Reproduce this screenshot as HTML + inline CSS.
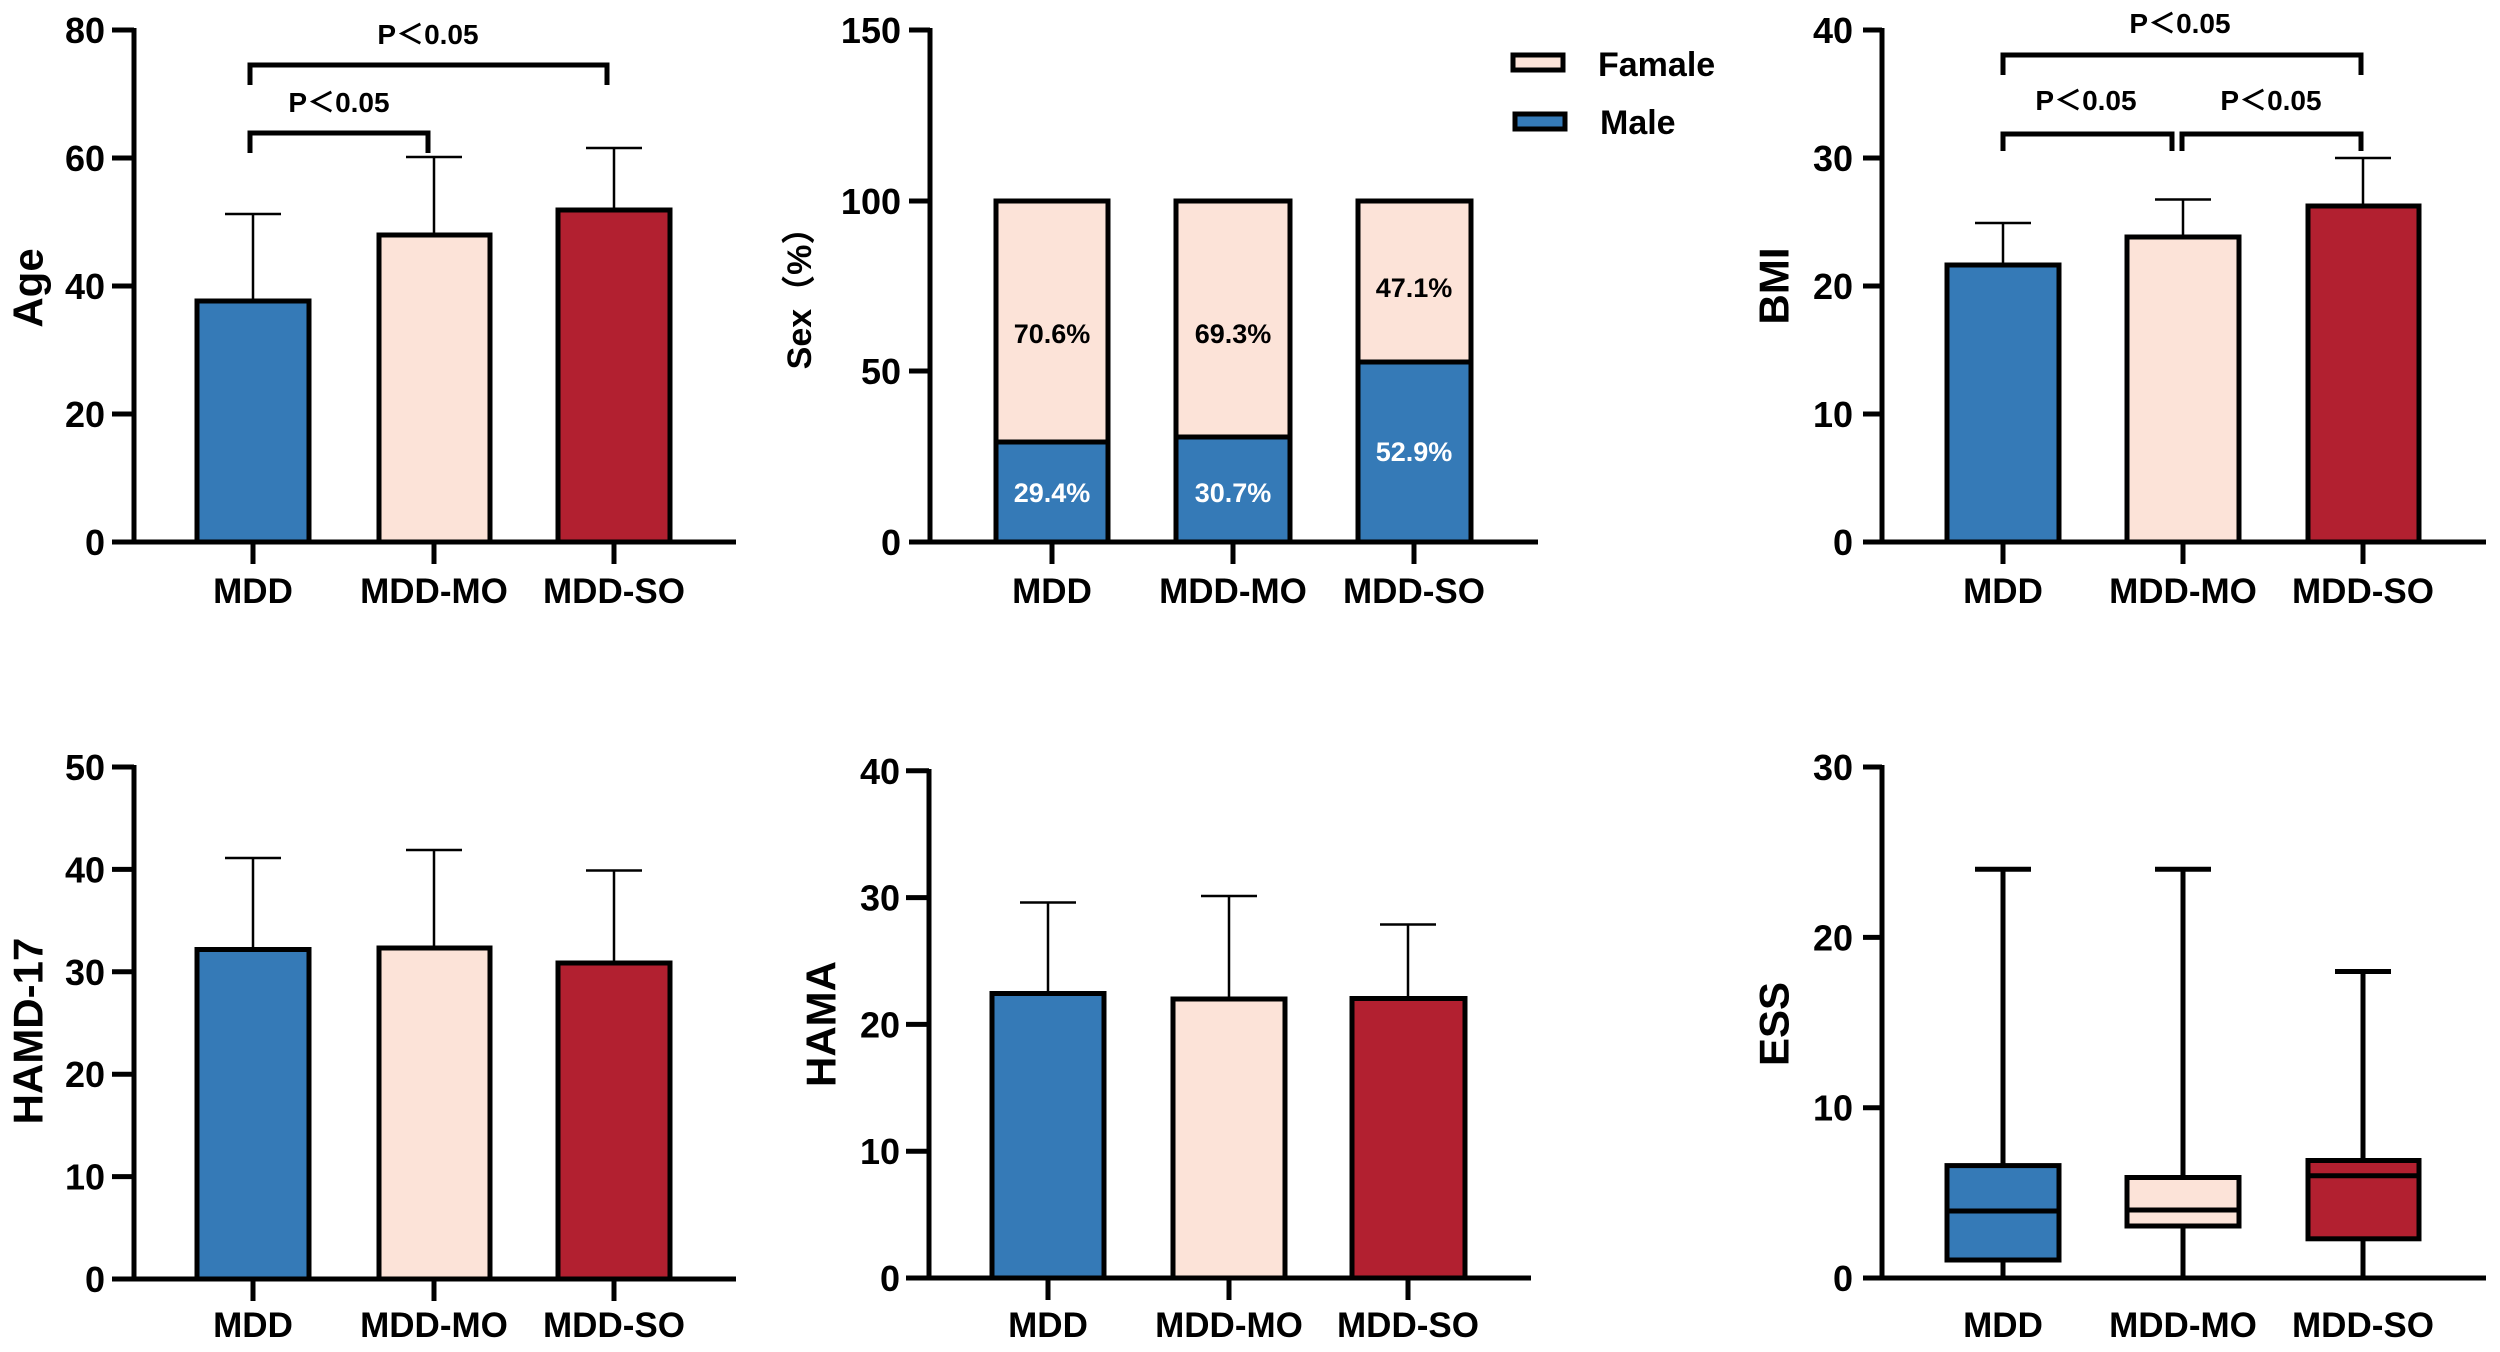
<!DOCTYPE html>
<html><head><meta charset="utf-8"><style>
html,body{margin:0;padding:0;background:#fff;}
svg{display:block;}
text{font-family:"Liberation Sans","Noto Sans CJK SC",sans-serif;font-weight:bold;fill:#000;}
.tk{font-size:36px;text-anchor:end;}
.cat{font-size:35px;text-anchor:middle;}
.al{font-size:42px;text-anchor:middle;dominant-baseline:central;}
.p{font-size:28px;text-anchor:middle;}
.pct{font-size:27px;text-anchor:middle;dominant-baseline:central;}
</style></head><body>
<svg width="2500" height="1352" viewBox="0 0 2500 1352" xmlns="http://www.w3.org/2000/svg">
<g stroke="#000" fill="none" stroke-width="5">
<!-- Panel A: Age -->
<path d="M134 28V542M112 542H736M112 542H134M112 414H134M112 286H134M112 158H134M112 30H134M253 542V564M434 542V564M614 542V564"/>
<rect x="197" y="301" width="112" height="241" fill="#357ab7"/>
<rect x="379" y="235" width="111" height="307" fill="#fce3d8"/>
<rect x="558" y="210" width="112" height="332" fill="#b22030"/>
<path stroke-width="2.5" d="M253 301V214M225 214H281M434 235V157M406 157H462M614 210V148M586 148H642"/>
<path d="M250 85V65H607V85M250 153V133H428V153"/>
<!-- Panel B: Sex -->
<path d="M930 28V542M909 542H1538M909 542H930M909 371H930M909 201H930M909 30H930M1052 542V564M1233 542V564M1414 542V564"/>
<rect x="996" y="201" width="112" height="341" fill="#fce3d8"/>
<rect x="996" y="442" width="112" height="100" fill="#357ab7"/>
<rect x="1176" y="201" width="114" height="341" fill="#fce3d8"/>
<rect x="1176" y="437" width="114" height="105" fill="#357ab7"/>
<rect x="1358" y="201" width="113" height="341" fill="#fce3d8"/>
<rect x="1358" y="362" width="113" height="180" fill="#357ab7"/>
<rect x="1513" y="55" width="50" height="15" fill="#fce3d8"/>
<rect x="1515" y="114" width="50" height="15" fill="#357ab7"/>
<!-- Panel C: BMI -->
<path d="M1882 28V542M1863 542H2486M1863 542H1882M1863 414H1882M1863 286H1882M1863 158H1882M1863 30H1882M2003 542V564M2183 542V564M2363 542V564"/>
<rect x="1947" y="265" width="112" height="277" fill="#357ab7"/>
<rect x="2127" y="237" width="112" height="305" fill="#fce3d8"/>
<rect x="2308" y="206" width="111" height="336" fill="#b22030"/>
<path stroke-width="2.5" d="M2003 265V223M1975 223H2031M2183 237V199.5M2155 199.5H2211M2363 206V158M2335 158H2391"/>
<path d="M2003 75V55H2361V75M2003 151V134H2172V151M2182 151V134H2361V151"/>
<!-- Panel D: HAMD-17 -->
<path d="M134 765V1279M112 1279H736M112 1279H134M112 1176.6H134M112 1074.2H134M112 971.8H134M112 869.4H134M112 767H134M253 1279V1301M434 1279V1301M614 1279V1301"/>
<rect x="197" y="949.5" width="112" height="329.5" fill="#357ab7"/>
<rect x="379" y="948" width="111" height="331" fill="#fce3d8"/>
<rect x="558" y="963" width="112" height="316" fill="#b22030"/>
<path stroke-width="2.5" d="M253 949.5V858M225 858H281M434 948V850M406 850H462M614 963V870.5M586 870.5H642"/>
<!-- Panel E: HAMA -->
<path d="M929 769V1278M906 1278H1531M906 1278H929M906 1151.2H929M906 1024.4H929M906 897.6H929M906 770.8H929M1048 1278V1300M1229 1278V1300M1408 1278V1300"/>
<rect x="992" y="993.5" width="112" height="284.5" fill="#357ab7"/>
<rect x="1173" y="999" width="112" height="279" fill="#fce3d8"/>
<rect x="1352" y="998.5" width="113" height="279.5" fill="#b22030"/>
<path stroke-width="2.5" d="M1048 993.5V902.5M1020 902.5H1076M1229 999V896M1201 896H1257M1408 998.5V924.5M1380 924.5H1436"/>
<!-- Panel F: ESS -->
<path d="M1882 765V1278M1863 1278H2486M1863 1278H1882M1863 1107.7H1882M1863 937.4H1882M1863 767H1882"/>
<path d="M2003 1278V869.3M1975 869.3H2031M2183 1278V869.3M2155 869.3H2211M2363 1278V971.5M2335 971.5H2391"/>
<rect x="1947" y="1165.6" width="112" height="94.4" fill="#357ab7"/>
<rect x="2127" y="1177.5" width="112" height="48.5" fill="#fce3d8"/>
<rect x="2308" y="1160.5" width="111" height="78.3" fill="#b22030"/>
<path d="M1947 1211H2059M2127 1210H2239M2308 1175.8H2419"/>
</g>
<!-- Text: Panel A -->
<text class="tk" x="105" y="555">0</text><text class="tk" x="105" y="427">20</text><text class="tk" x="105" y="299">40</text><text class="tk" x="105" y="171">60</text><text class="tk" x="105" y="43">80</text>
<text class="cat" x="253" y="603">MDD</text><text class="cat" x="434" y="603">MDD-MO</text><text class="cat" x="614" y="603">MDD-SO</text>
<text class="al" transform="translate(28,288) rotate(-90)">Age</text>
<text class="p" x="428" y="44">P＜0.05</text><text class="p" x="339" y="112">P＜0.05</text>
<!-- Panel B -->
<text class="tk" x="901" y="555">0</text><text class="tk" x="901" y="384">50</text><text class="tk" x="901" y="214">100</text><text class="tk" x="901" y="43">150</text>
<text class="cat" x="1052" y="603">MDD</text><text class="cat" x="1233" y="603">MDD-MO</text><text class="cat" x="1414" y="603">MDD-SO</text>
<text class="al" style="font-size:34px" transform="translate(800,290) rotate(-90)">Sex（%）</text>
<text class="pct" x="1052" y="334">70.6%</text><text class="pct" x="1233" y="334">69.3%</text><text class="pct" x="1414" y="288">47.1%</text>
<text class="pct" x="1052" y="493" style="fill:#fff">29.4%</text><text class="pct" x="1233" y="493" style="fill:#fff">30.7%</text><text class="pct" x="1414" y="452" style="fill:#fff">52.9%</text>
<text x="1598" y="76" style="font-size:34px">Famale</text>
<text x="1600" y="134" style="font-size:34px">Male</text>
<!-- Panel C -->
<text class="tk" x="1853" y="555">0</text><text class="tk" x="1853" y="427">10</text><text class="tk" x="1853" y="299">20</text><text class="tk" x="1853" y="171">30</text><text class="tk" x="1853" y="43">40</text>
<text class="cat" x="2003" y="603">MDD</text><text class="cat" x="2183" y="603">MDD-MO</text><text class="cat" x="2363" y="603">MDD-SO</text>
<text class="al" transform="translate(1774,286) rotate(-90)">BMI</text>
<text class="p" x="2180" y="33">P＜0.05</text><text class="p" x="2086" y="110">P＜0.05</text><text class="p" x="2271" y="110">P＜0.05</text>
<!-- Panel D -->
<text class="tk" x="105" y="1292">0</text><text class="tk" x="105" y="1189.6">10</text><text class="tk" x="105" y="1087.2">20</text><text class="tk" x="105" y="984.8">30</text><text class="tk" x="105" y="882.4">40</text><text class="tk" x="105" y="780">50</text>
<text class="cat" x="253" y="1337">MDD</text><text class="cat" x="434" y="1337">MDD-MO</text><text class="cat" x="614" y="1337">MDD-SO</text>
<text class="al" transform="translate(28,1031) rotate(-90)">HAMD-17</text>
<!-- Panel E -->
<text class="tk" x="900" y="1291">0</text><text class="tk" x="900" y="1164.2">10</text><text class="tk" x="900" y="1037.4">20</text><text class="tk" x="900" y="910.6">30</text><text class="tk" x="900" y="783.8">40</text>
<text class="cat" x="1048" y="1337">MDD</text><text class="cat" x="1229" y="1337">MDD-MO</text><text class="cat" x="1408" y="1337">MDD-SO</text>
<text class="al" transform="translate(821,1024) rotate(-90)">HAMA</text>
<!-- Panel F -->
<text class="tk" x="1853" y="1291">0</text><text class="tk" x="1853" y="1120.7">10</text><text class="tk" x="1853" y="950.4">20</text><text class="tk" x="1853" y="780">30</text>
<text class="cat" x="2003" y="1337">MDD</text><text class="cat" x="2183" y="1337">MDD-MO</text><text class="cat" x="2363" y="1337">MDD-SO</text>
<text class="al" transform="translate(1774,1024) rotate(-90)">ESS</text>
</svg>
</body></html>
